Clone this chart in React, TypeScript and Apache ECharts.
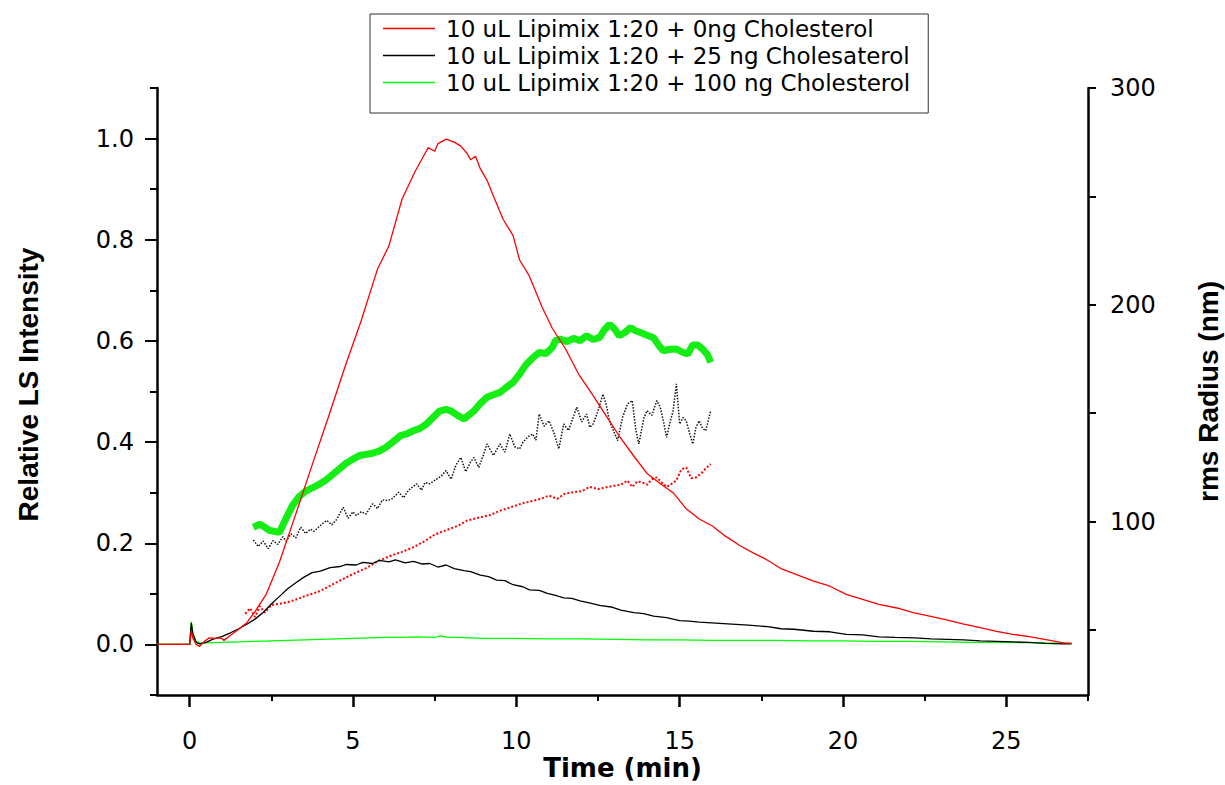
import React, { useEffect, useRef } from "react";
import * as echarts from "echarts";

// ---------- Data ----------
const LEGEND_NAMES = [
  "10 uL Lipimix 1:20 + 0ng Cholesterol",
  "10 uL Lipimix 1:20 + 25 ng Cholesaterol",
  "10 uL Lipimix 1:20 + 100 ng Cholesterol",
];

const X_MAJOR = [0, 5, 10, 15, 20, 25];
const X_MINOR = [2.5, 7.5, 12.5, 17.5, 22.5, 27.5];
const Y_MAJOR = [0, 0.2, 0.4, 0.6, 0.8, 1.0];
const Y_MINOR = [-0.1, 0.1, 0.3, 0.5, 0.7, 0.9, 1.1];
const R_TICKS = [50, 100, 150, 200, 250, 300];
const R_LABELS = [100, 200, 300];

// Relative LS intensity, 0 ng (red)
const T_LS_0 = [-1, -0.5, 0, 0.05, 0.1, 0.2, 0.3, 0.45, 0.6, 0.8, 0.95, 1.05, 1.25, 1.5, 1.75, 2.0, 2.35, 2.75, 3.25, 3.75, 4.25, 4.75, 5.25, 5.75, 6.1, 6.5, 6.9, 7.3, 7.5, 7.6, 7.85, 8.1, 8.3, 8.5, 8.6, 8.75, 8.9, 9.1, 9.3, 9.6, 9.9, 10.1, 10.4, 10.8, 11.1, 11.5, 11.9, 12.35, 12.75, 13.15, 13.6, 14.0, 14.4, 14.8, 15.2, 15.6, 16.0, 16.4, 16.85, 17.25, 17.65, 18.1, 18.5, 19.1, 19.6, 20.1, 20.6, 21.1, 21.65, 22.15, 22.65, 23.2, 23.7, 24.2, 24.7, 25.2, 25.75, 26.25, 26.75, 27.0];
const V_LS_0 = [0, 0, 0, 0.026, 0.012, 0.0, -0.004, 0.006, 0.013, 0.012, 0.013, 0.008, 0.018, 0.03, 0.043, 0.065, 0.1, 0.163, 0.258, 0.355, 0.45, 0.548, 0.64, 0.742, 0.788, 0.88, 0.935, 0.982, 0.975, 0.99, 0.999, 0.993, 0.985, 0.97, 0.958, 0.965, 0.94, 0.918, 0.886, 0.84, 0.808, 0.76, 0.728, 0.665, 0.625, 0.585, 0.535, 0.492, 0.452, 0.412, 0.372, 0.338, 0.318, 0.3, 0.268, 0.248, 0.234, 0.214, 0.195, 0.181, 0.168, 0.15, 0.14, 0.125, 0.115, 0.099, 0.089, 0.079, 0.072, 0.063, 0.056, 0.048, 0.04, 0.033, 0.026, 0.02, 0.015, 0.009, 0.003, 0.002];

// Relative LS intensity, 25 ng (black)
const T_LS_25 = [-1, 0, 0.05, 0.1, 0.2, 0.3, 0.5, 0.7, 1.0, 1.25, 1.5, 1.75, 2.0, 2.25, 2.5, 2.75, 3.0, 3.25, 3.5, 3.75, 4.0, 4.3, 4.6, 4.8, 5.1, 5.3, 5.6, 5.8, 6.1, 6.3, 6.6, 6.85, 7.1, 7.35, 7.6, 7.85, 8.1, 8.4, 8.6, 8.9, 9.15, 9.4, 9.65, 9.9, 10.2, 10.4, 10.7, 10.95, 11.2, 11.45, 11.7, 11.95, 12.3, 12.55, 12.9, 13.2, 13.6, 13.9, 14.2, 14.6, 15.0, 15.3, 15.6, 16.1, 16.6, 17.1, 17.7, 18.1, 18.5, 19.1, 19.6, 20.1, 20.6, 21.1, 21.6, 22.2, 22.7, 23.2, 23.7, 24.2, 24.7, 25.2, 25.7, 26.2, 26.7, 27.0];
const V_LS_25 = [0, 0, 0.042, 0.02, 0.004, 0.001, 0.004, 0.01, 0.016, 0.023, 0.031, 0.04, 0.05, 0.063, 0.08, 0.095, 0.11, 0.122, 0.133, 0.142, 0.145, 0.152, 0.154, 0.158, 0.157, 0.162, 0.16, 0.166, 0.163, 0.167, 0.161, 0.164, 0.159, 0.16, 0.153, 0.157, 0.15, 0.146, 0.144, 0.137, 0.134, 0.127, 0.126, 0.118, 0.114, 0.108, 0.107, 0.101, 0.097, 0.092, 0.091, 0.086, 0.081, 0.077, 0.074, 0.068, 0.063, 0.061, 0.056, 0.053, 0.047, 0.046, 0.044, 0.042, 0.04, 0.038, 0.035, 0.031, 0.03, 0.026, 0.025, 0.02, 0.019, 0.015, 0.014, 0.013, 0.011, 0.01, 0.009, 0.007, 0.006, 0.005, 0.004, 0.002, 0.001, 0.001];

// Relative LS intensity, 100 ng (green)
const T_LS_100 = [-1, 0, 0.05, 0.1, 0.2, 0.35, 0.5, 1, 2, 3, 4, 5, 6, 6.5, 7, 7.5, 7.7, 7.9, 8.2, 9, 10, 11, 12, 13, 14, 15, 16, 17, 18, 19, 20, 21, 22, 23, 24, 25, 26, 27];
const V_LS_100 = [0, 0, 0.045, 0.022, 0.006, 0.002, 0.003, 0.004, 0.006, 0.008, 0.01, 0.012, 0.014, 0.014, 0.015, 0.014, 0.017, 0.014, 0.014, 0.012, 0.012, 0.011, 0.011, 0.01, 0.009, 0.009, 0.008, 0.008, 0.008, 0.007, 0.007, 0.006, 0.006, 0.005, 0.004, 0.004, 0.003, 0.002];

// rms radius (nm), 0 ng (red dotted)
const T_R_0 = [1.7, 1.85, 2.0, 2.15, 2.3, 2.5, 2.75, 3.0, 3.25, 3.5, 3.75, 4.0, 4.25, 4.5, 4.8, 5.1, 5.4, 5.8, 6.2, 6.5, 6.85, 7.2, 7.5, 7.85, 8.2, 8.5, 8.9, 9.2, 9.5, 9.9, 10.2, 10.5, 10.75, 11.0, 11.25, 11.5, 11.75, 12.0, 12.25, 12.5, 12.75, 13.0, 13.2, 13.4, 13.55, 13.7, 13.85, 14.0, 14.15, 14.3, 14.45, 14.6, 14.75, 14.9, 15.05, 15.2, 15.35, 15.5, 15.65, 15.8, 15.95];
const V_R_0 = [57.5, 60.0, 56.0, 61.0, 58.0, 61.5, 62.1, 62.8, 64.0, 65.5, 66.7, 68.0, 70.0, 72.0, 74.3, 76.5, 78.5, 82.0, 84.5, 86.0, 88.2, 91.0, 94.0, 96.0, 98.0, 100.5, 102.0, 103.0, 105.0, 107.0, 108.5, 109.5, 110.5, 112.0, 110.5, 113.0, 113.5, 114.0, 116.0, 115.0, 115.8, 116.5, 117.0, 118.9, 116.0, 118.5, 118.1, 117.0, 119.5, 120.4, 118.0, 116.0, 117.4, 119.0, 124.0, 125.0, 120.0, 120.4, 122.0, 124.5, 126.6];

// rms radius (nm), 25 ng (black dotted)
const T_R_25 = [1.95, 2.1, 2.25, 2.4, 2.55, 2.7, 2.85, 2.95, 3.1, 3.25, 3.4, 3.55, 3.7, 3.8, 3.95, 4.1, 4.2, 4.35, 4.5, 4.7, 4.85, 5.0, 5.1, 5.25, 5.4, 5.6, 5.75, 5.9, 6.05, 6.2, 6.4, 6.55, 6.7, 6.95, 7.1, 7.2, 7.35, 7.5, 7.7, 7.85, 8.0, 8.15, 8.3, 8.45, 8.6, 8.7, 8.85, 9.0, 9.1, 9.3, 9.5, 9.65, 9.8, 9.95, 10.1, 10.2, 10.35, 10.5, 10.6, 10.7, 10.85, 11.0, 11.15, 11.3, 11.45, 11.6, 11.75, 11.85, 12.0, 12.15, 12.25, 12.35, 12.5, 12.65, 12.75, 12.85, 13.0, 13.1, 13.25, 13.4, 13.55, 13.65, 13.75, 13.9, 14.0, 14.15, 14.3, 14.4, 14.5, 14.6, 14.7, 14.8, 14.9, 15.0, 15.1, 15.2, 15.3, 15.4, 15.5, 15.6, 15.7, 15.8, 15.95];
const V_R_25 = [91.5, 88.5, 91.0, 87.5, 91.2, 89.5, 93.0, 91.0, 94.3, 92.5, 97.4, 94.5, 96.5, 95.5, 97.5, 99.5, 100.5, 98.5, 101.0, 106.6, 101.5, 104.5, 102.8, 104.5, 103.5, 108.2, 106.0, 110.0, 109.7, 110.5, 113.5, 111.0, 114.5, 117.4, 114.5, 118.0, 117.4, 119.0, 121.0, 123.5, 119.5, 126.0, 129.6, 123.0, 127.5, 129.6, 125.0, 131.0, 135.8, 130.5, 135.8, 132.0, 140.4, 134.5, 133.5, 136.5, 139.0, 140.4, 137.5, 149.6, 144.0, 146.5, 141.0, 133.5, 145.0, 142.0, 148.5, 152.7, 146.0, 149.6, 143.5, 145.0, 151.0, 158.8, 154.0, 146.5, 141.0, 137.3, 148.0, 154.2, 155.8, 143.0, 135.8, 147.5, 151.2, 149.0, 155.8, 153.0, 146.5, 138.8, 145.5, 151.2, 163.5, 145.0, 148.0, 146.5, 141.0, 135.8, 143.5, 146.5, 143.0, 141.9, 151.2];

// rms radius (nm), 100 ng (green band)
const T_R_100 = [1.95, 2.15, 2.45, 2.75, 2.95, 3.15, 3.35, 3.55, 3.75, 4.0, 4.2, 4.4, 4.6, 4.8, 5.0, 5.2, 5.4, 5.6, 5.8, 6.0, 6.2, 6.45, 6.65, 6.85, 7.05, 7.25, 7.45, 7.65, 7.85, 8.0, 8.2, 8.4, 8.7, 8.9, 9.1, 9.3, 9.5, 9.7, 9.9, 10.1, 10.3, 10.5, 10.7, 10.9, 11.1, 11.2, 11.35, 11.55, 11.75, 11.95, 12.15, 12.35, 12.55, 12.7, 12.85, 13.0, 13.15, 13.3, 13.5, 13.65, 13.8, 14.0, 14.2, 14.35, 14.5, 14.7, 14.9, 15.1, 15.25, 15.4, 15.55, 15.7, 15.85, 15.95];
const V_R_100 = [97.4, 98.8, 95.9, 95.0, 101.5, 107.5, 111.5, 114.0, 115.5, 117.5, 119.5, 122.0, 124.5, 127.0, 128.8, 130.5, 131.0, 131.5, 132.5, 134.2, 136.5, 139.6, 140.5, 141.9, 143.0, 145.0, 148.0, 151.0, 151.8, 151.0, 149.0, 147.3, 151.0, 154.5, 157.3, 158.5, 159.6, 162.0, 164.2, 168.0, 172.5, 175.5, 178.0, 177.5, 180.3, 183.5, 184.2, 183.0, 184.5, 183.5, 185.7, 184.0, 185.0, 188.5, 191.0, 189.0, 185.7, 187.0, 189.5, 188.0, 187.2, 186.0, 184.8, 181.5, 178.8, 179.5, 179.6, 178.0, 177.3, 181.5, 181.5, 179.6, 177.0, 173.4];

const zip = (t: number[], v: number[]) => t.map((x, i) => [x, v[i]]);

const TXT = "DejaVu Sans";
const AX = "#000";

export default function App() {
  const ref = useRef<HTMLDivElement>(null);

  useEffect(() => {
    if (!ref.current) return;
    const chart = echarts.init(ref.current, null, { renderer: "svg" });

    const option: any = {
      animation: false,
      backgroundColor: "#fff",
      grid: { left: 157, right: 137, top: 88, bottom: 90, outerBoundsMode: "none", containLabel: false },
      legend: {
        orient: "vertical",
        left: 370,
        top: 14,
        padding: [3, 18, 19, 13],
        itemGap: 4,
        itemWidth: 52,
        itemHeight: 1.5,
        icon: "rect",
        selectedMode: false,
        borderColor: "#333",
        borderWidth: 1,
        textStyle: { fontFamily: TXT, fontSize: 23, color: "#000", padding: [0, 0, 0, 6] },
        data: LEGEND_NAMES,
      },
      xAxis: [
        {
          type: "value",
          min: -1,
          max: 27.5,
          position: "bottom",
          axisLine: { show: true, onZero: false, lineStyle: { color: AX, width: 2.5 } },
          axisTick: { show: true, customValues: X_MAJOR, length: 12, lineStyle: { color: AX, width: 2.5 } },
          axisLabel: { customValues: X_MAJOR, fontFamily: TXT, fontSize: 24, color: "#000", margin: 34 },
          splitLine: { show: false },
          name: "Time (min)",
          nameLocation: "middle",
          nameGap: 59,
          nameMoveOverlap: false,
          nameTextStyle: { fontFamily: TXT, fontWeight: "bold", fontSize: 26, color: "#000", lineHeight: 28 },
        },
        {
          type: "value",
          min: -1,
          max: 27.5,
          position: "bottom",
          axisLine: { show: false, onZero: false },
          axisTick: { show: true, customValues: X_MINOR, length: 6, lineStyle: { color: AX, width: 2 } },
          axisLabel: { show: false },
          splitLine: { show: false },
        },
      ],
      yAxis: [
        {
          type: "value",
          min: -0.1,
          max: 1.1,
          position: "left",
          axisLine: { show: true, onZero: false, lineStyle: { color: AX, width: 2.5 } },
          axisTick: { show: true, customValues: Y_MAJOR, length: 12, lineStyle: { color: AX, width: 2 } },
          axisLabel: {
            customValues: Y_MAJOR,
            formatter: (v: number) => v.toFixed(1),
            fontFamily: TXT,
            fontSize: 24,
            color: "#000",
            margin: 23,
          },
          splitLine: { show: false },
          name: "Relative LS Intensity",
          nameLocation: "middle",
          nameRotate: 90,
          nameGap: 115,
          nameMoveOverlap: false,
          nameTextStyle: {
            fontFamily: "Liberation Sans",
            fontWeight: "bold",
            fontSize: 28,
            color: "#000",
            padding: [0, 0, 0, 14],
          },
        },
        {
          type: "value",
          min: -0.1,
          max: 1.1,
          position: "left",
          axisLine: { show: false, onZero: false },
          axisTick: { show: true, customValues: Y_MINOR, length: 7, lineStyle: { color: AX, width: 2 } },
          axisLabel: { show: false },
          splitLine: { show: false },
        },
        {
          type: "value",
          min: 20,
          max: 300,
          position: "right",
          axisLine: { show: true, onZero: false, lineStyle: { color: AX, width: 2.5 } },
          axisTick: { show: true, customValues: R_TICKS, length: 8, lineStyle: { color: AX, width: 2 } },
          axisLabel: { customValues: R_LABELS, fontFamily: TXT, fontSize: 24, color: "#000", margin: 22 },
          splitLine: { show: false },
          name: "rms Radius (nm)",
          nameLocation: "middle",
          nameRotate: 90,
          nameGap: 106,
          nameMoveOverlap: false,
          nameTextStyle: { fontFamily: "Liberation Sans", fontWeight: "bold", fontSize: 28, color: "#000" },
        },
      ],
      series: [
        {
          name: "rms 100 ng",
          type: "line",
          yAxisIndex: 2,
          showSymbol: false,
          data: zip(T_R_100, V_R_100),
          lineStyle: { color: "#14ee14", width: 7 },
          itemStyle: { color: "#14ee14" },
        },
        {
          name: "rms 25 ng",
          type: "line",
          yAxisIndex: 2,
          showSymbol: false,
          data: zip(T_R_25, V_R_25),
          lineStyle: { color: "#111", width: 1.5, type: "dotted" },
          itemStyle: { color: "#111" },
        },
        {
          name: "rms 0 ng",
          type: "line",
          yAxisIndex: 2,
          showSymbol: false,
          data: zip(T_R_0, V_R_0),
          lineStyle: { color: "#ff0000", width: 2, type: "dotted" },
          itemStyle: { color: "#ff0000" },
        },
        {
          name: LEGEND_NAMES[2],
          type: "line",
          yAxisIndex: 0,
          showSymbol: false,
          data: zip(T_LS_100, V_LS_100),
          lineStyle: { color: "#00ff00", width: 1.3 },
          itemStyle: { color: "#00ff00" },
        },
        {
          name: LEGEND_NAMES[1],
          type: "line",
          yAxisIndex: 0,
          showSymbol: false,
          data: zip(T_LS_25, V_LS_25),
          lineStyle: { color: "#000", width: 1.3 },
          itemStyle: { color: "#000" },
        },
        {
          name: LEGEND_NAMES[0],
          type: "line",
          yAxisIndex: 0,
          showSymbol: false,
          data: zip(T_LS_0, V_LS_0),
          lineStyle: { color: "#ff0000", width: 1.3 },
          itemStyle: { color: "#ff0000" },
        },
      ],
    };

    chart.setOption(option);
    return () => chart.dispose();
  }, []);

  return (
    <div
      ref={ref}
      style={{ position: "absolute", left: 0, top: 0, width: 1225, height: 785 }}
    />
  );
}
